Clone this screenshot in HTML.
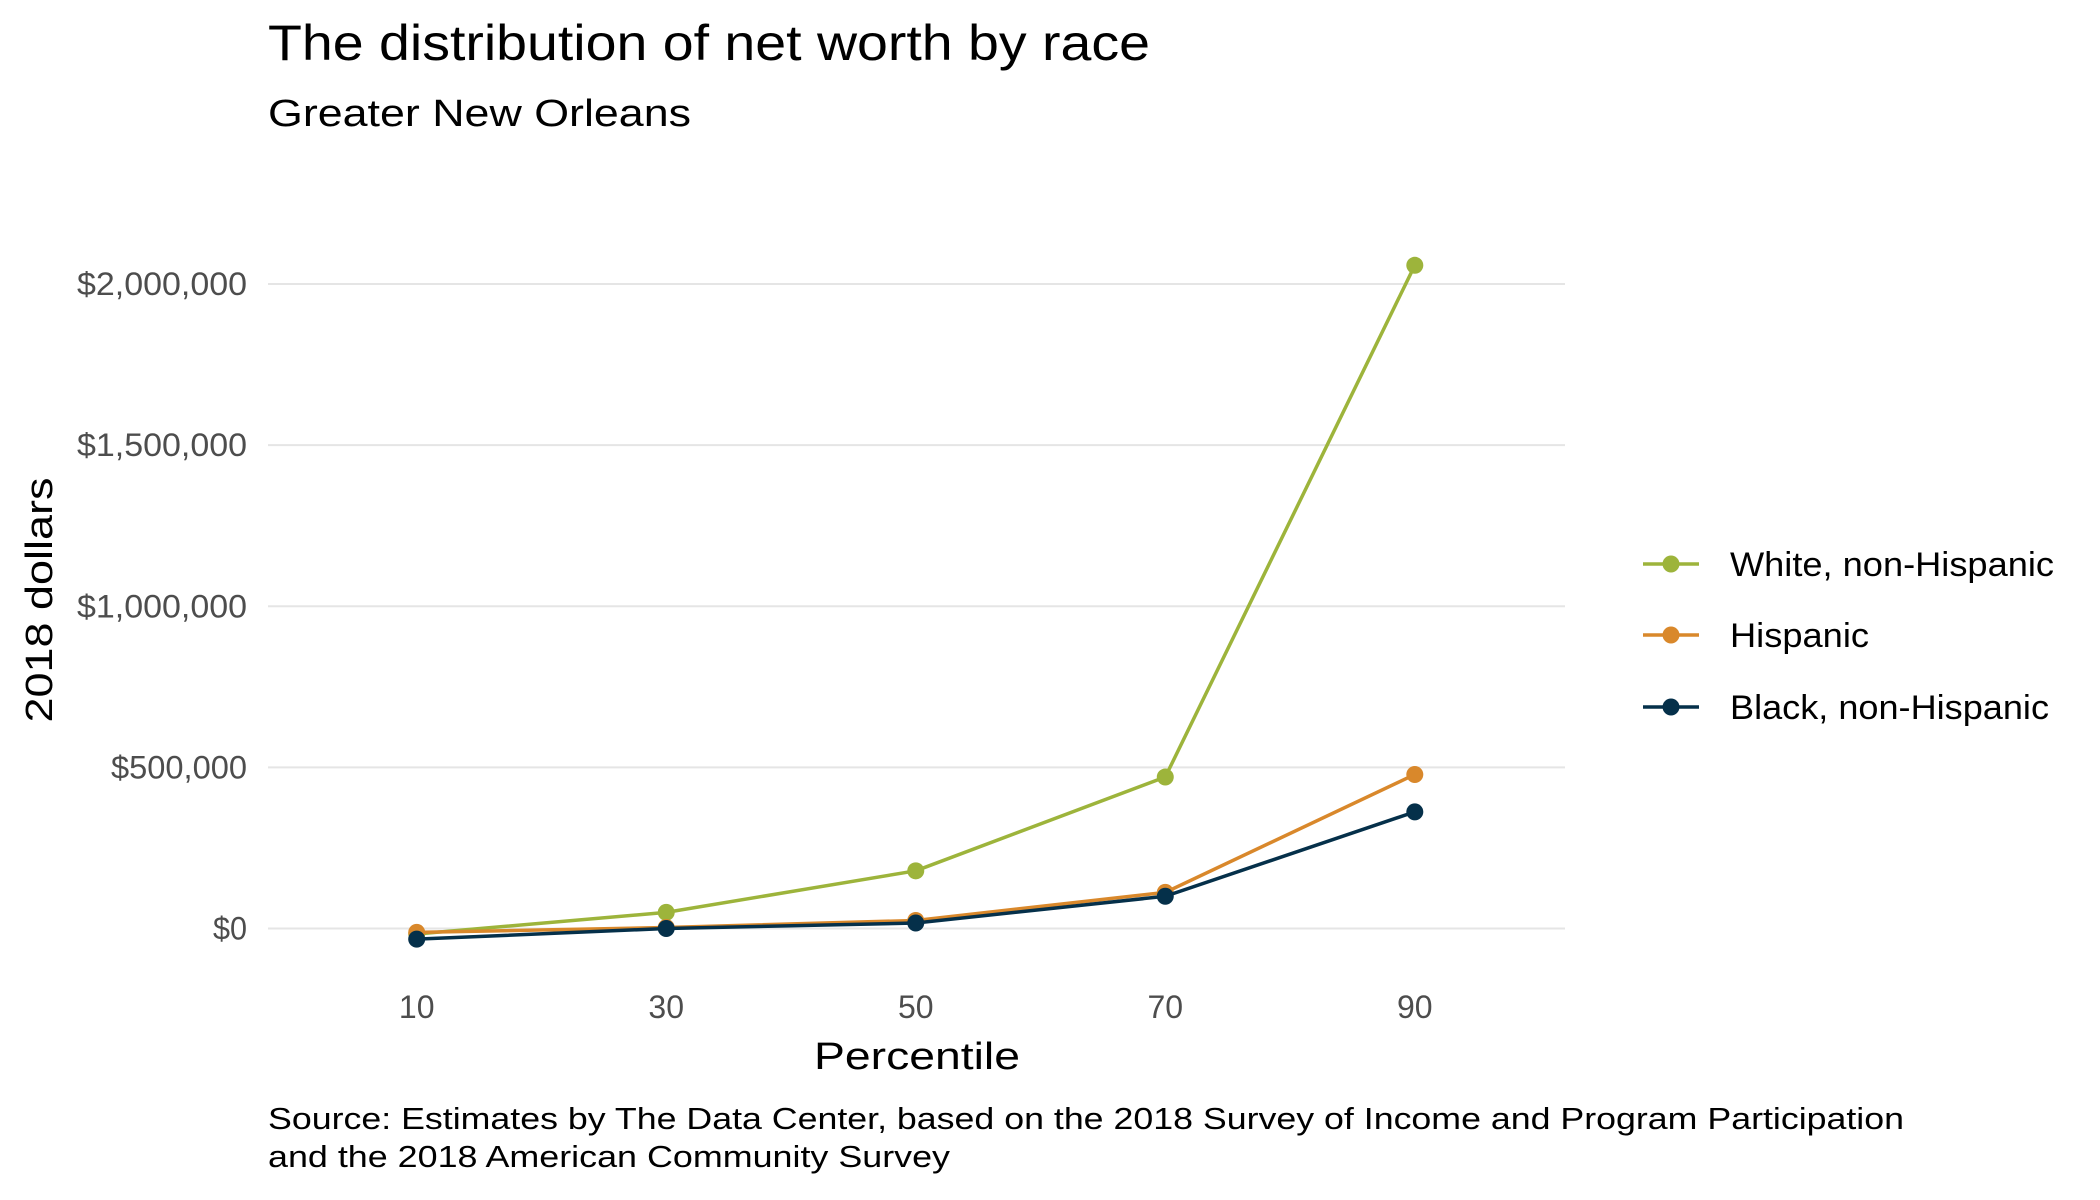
<!DOCTYPE html>
<html><head><meta charset="utf-8"><style>
html,body{margin:0;padding:0;background:#fff;}
svg{display:block;font-family:"Liberation Sans",sans-serif;}
</style></head><body>
<svg id="chart" width="2100" height="1200" viewBox="0 0 2100 1200" xmlns="http://www.w3.org/2000/svg">
<text x="268" y="60" font-size="50" fill="#000" textLength="882" lengthAdjust="spacingAndGlyphs">The distribution of net worth by race</text>
<text x="268" y="126" font-size="38" fill="#000" textLength="423" lengthAdjust="spacingAndGlyphs">Greater New Orleans</text>
<g id="grid"></g>
<g id="yticks"></g>
<g id="xticks"></g>
<g id="series"></g>
<text transform="translate(52,600) rotate(-90)" text-anchor="middle" font-size="38" fill="#000" textLength="245" lengthAdjust="spacingAndGlyphs">2018 dollars</text>
<text x="917" y="1069" text-anchor="middle" font-size="38" fill="#000" textLength="206" lengthAdjust="spacingAndGlyphs">Percentile</text>
<g id="legend"></g>
<text x="268" y="1129" font-size="31" fill="#000" textLength="1636" lengthAdjust="spacingAndGlyphs">Source: Estimates by The Data Center, based on the 2018 Survey of Income and Program Participation</text>
<text x="268" y="1167" font-size="31" fill="#000" textLength="682" lengthAdjust="spacingAndGlyphs">and the 2018 American Community Survey</text>
</svg>
<script>
const percentiles = [10, 30, 50, 70, 90];
const whiteValues = [-17000, 50000, 179000, 470000, 2058000];
const hispanicValues = [-12000, 3000, 25000, 112000, 478000];
const blackValues = [-33000, 0, 17000, 100000, 362000];
const seriesNames = ["White, non-Hispanic", "Hispanic", "Black, non-Hispanic"];
const yTickValues = [0, 500000, 1000000, 1500000, 2000000];
const yTickLabels = ["$0", "$500,000", "$1,000,000", "$1,500,000", "$2,000,000"];

const NS = "http://www.w3.org/2000/svg";
const colors = ["#9db43b", "#d9882b", "#05304a"];
const allSeries = [whiteValues, hispanicValues, blackValues];
const xScale = v => 416.7 + (v - 10) * (1414.8 - 416.7) / 80;
const yScale = v => 928.5 - v * (928.5 - 284) / 2000000;
function mk(tag, attrs, parent) {
  const e = document.createElementNS(NS, tag);
  for (const k in attrs) e.setAttribute(k, attrs[k]);
  parent.appendChild(e);
  return e;
}
const grid = document.getElementById('grid');
const yt = document.getElementById('yticks');
yTickValues.forEach((v, i) => {
  const l = mk('line', {x1: 268, x2: 1565, y1: yScale(v), y2: yScale(v), stroke: '#e5e5e5', 'stroke-width': 2}, grid);
  
  
  const t = mk('text', {x: 247, y: yScale(v) + 11, 'text-anchor': 'end', 'font-size': 32, fill: '#4d4d4d', textLength: yTickLabels[i].length * 17, lengthAdjust: 'spacingAndGlyphs'}, yt);
  
  
  t.textContent = yTickLabels[i];
});
const xt = document.getElementById('xticks');
percentiles.forEach(p => {
  const t = mk('text', {x: xScale(p), y: 1018, 'text-anchor': 'middle', 'font-size': 32, fill: '#4d4d4d'}, xt);
  
  
  t.textContent = String(p);
});
const sg = document.getElementById('series');
allSeries.forEach((vals, si) => {
  const pts = vals.map((v, i) => xScale(percentiles[i]) + ',' + yScale(v)).join(' ');
  const pl = mk('polyline', {points: pts, fill: 'none', stroke: colors[si], 'stroke-width': 3.5, 'stroke-linejoin': 'round'}, sg);
  
  
  vals.forEach((v, i) => {
    const c = mk('circle', {cx: xScale(percentiles[i]), cy: yScale(v), r: 8.5, fill: colors[si]}, sg);
    
    
  });
});
const lg = document.getElementById('legend');
const legendY = [564, 635, 707];
const legendW = [324, 139, 319];
seriesNames.forEach((n, i) => {
  const g = mk('g', {}, lg);
  
  
  mk('line', {x1: 1643, x2: 1699, y1: legendY[i], y2: legendY[i], stroke: colors[i], 'stroke-width': 3.5}, g);
  mk('circle', {cx: 1671, cy: legendY[i], r: 8.5, fill: colors[i]}, g);
  const t = mk('text', {x: 1730, y: legendY[i] + 12, 'font-size': 34, fill: '#000', textLength: legendW[i], lengthAdjust: 'spacingAndGlyphs'}, g);
  t.textContent = n;
});
</script>
</body></html>
